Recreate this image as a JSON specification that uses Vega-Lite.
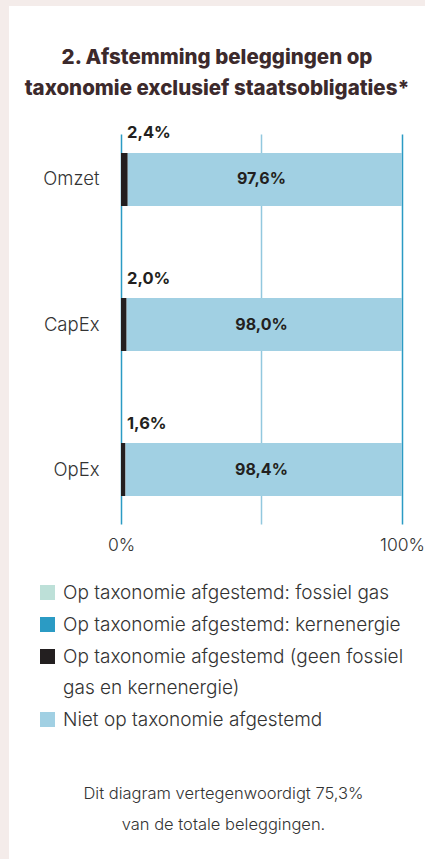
{
  "$schema": "https://vega.github.io/schema/vega-lite/v6.json",
  "width": 416,
  "height": 853,
  "autosize": {"type": "none"},
  "padding": {"left": 9, "top": 6, "right": 0, "bottom": 0},
  "background": "#f4ecea",
  "title": {
    "text": ["2. Afstemming beleggingen op", "taxonomie exclusief staatsobligaties*"],
    "anchor": "middle",
    "frame": "group",
    "baseline": "top",
    "offset": -93,
    "font": "Inter",
    "fontSize": 20.5,
    "fontWeight": 800,
    "color": "#3c2a2c",
    "lineHeight": 31
  },
  "data": {
    "values": [
      {"metric": "Omzet", "category": "Op taxonomie afgestemd: fossiel gas", "value": 0},
      {"metric": "Omzet", "category": "Op taxonomie afgestemd: kernenergie", "value": 0},
      {"metric": "Omzet", "category": "Op taxonomie afgestemd (geen fossiel gas en kernenergie)", "value": 2.4},
      {"metric": "Omzet", "category": "Niet op taxonomie afgestemd", "value": 97.6},
      {"metric": "CapEx", "category": "Op taxonomie afgestemd: fossiel gas", "value": 0},
      {"metric": "CapEx", "category": "Op taxonomie afgestemd: kernenergie", "value": 0},
      {"metric": "CapEx", "category": "Op taxonomie afgestemd (geen fossiel gas en kernenergie)", "value": 2.0},
      {"metric": "CapEx", "category": "Niet op taxonomie afgestemd", "value": 98.0},
      {"metric": "OpEx", "category": "Op taxonomie afgestemd: fossiel gas", "value": 0},
      {"metric": "OpEx", "category": "Op taxonomie afgestemd: kernenergie", "value": 0},
      {"metric": "OpEx", "category": "Op taxonomie afgestemd (geen fossiel gas en kernenergie)", "value": 1.6},
      {"metric": "OpEx", "category": "Niet op taxonomie afgestemd", "value": 98.4}
    ]
  },
  "layer": [
    {
      "mark": {"type": "bar"},
      "encoding": {
        "y": {
          "field": "metric",
          "type": "nominal",
          "sort": ["Omzet", "CapEx", "OpEx"],
          "scale": {"range": [147, 490], "paddingInner": 0.6345, "paddingOuter": 0},
          "axis": {
            "title": null,
            "orient": "left",
            "offset": -112,
            "domain": false,
            "ticks": false,
            "labelPadding": 22,
            "labelFont": "Inter",
            "labelFontSize": 18.5,
            "labelFontWeight": 300,
            "labelColor": "#333333"
          }
        },
        "x": {
          "field": "value",
          "type": "quantitative",
          "stack": "zero",
          "scale": {"domain": [-39.86, 108.19], "nice": false, "zero": false},
          "axis": {
            "orient": "bottom",
            "offset": -335,
            "zindex": 0,
            "values": [0, 50, 100],
            "domain": false,
            "grid": false,
            "ticks": true,
            "tickSize": -390,
            "tickWidth": 1.5,
            "tickColor": {"condition": {"test": "datum.value == 50", "value": "#92c8de"}, "value": "#2b9bc4"},
            "labelExpr": "datum.value == 50 ? '' : datum.value + '%'",
            "labelPadding": 402,
            "labelFont": "Inter",
            "labelFontSize": 17.5,
            "labelFontWeight": 300,
            "labelColor": "#333333",
            "labelFlush": false,
            "labelOverlap": false,
            "title": ["Dit diagram vertegenwoordigt 75,3%", "van de totale beleggingen."],
            "titleFont": "Inter",
            "titleFontSize": 16.5,
            "titleFontWeight": 300,
            "titleColor": "#333333",
            "titleLineHeight": 31,
            "titleX": 214,
            "titleY": 274,
            "titleBaseline": "alphabetic",
            "titleAlign": "center"
          }
        },
        "color": {
          "field": "category",
          "type": "nominal",
          "scale": {
            "domain": [
              "Op taxonomie afgestemd: fossiel gas",
              "Op taxonomie afgestemd: kernenergie",
              "Op taxonomie afgestemd (geen fossiel gas en kernenergie)",
              "Niet op taxonomie afgestemd"
            ],
            "range": ["#bde0d8", "#2b9bc4", "#231f20", "#a1d0e3"]
          },
          "legend": {
            "title": null,
            "orient": "none",
            "legendX": 29,
            "legendY": 577,
            "padding": 0,
            "symbolType": "square",
            "symbolSize": 225,
            "symbolStrokeWidth": 0,
            "symbolOpacity": 1,
            "labelFont": "Inter",
            "labelFontSize": 19,
            "labelFontWeight": 300,
            "labelColor": "#333333",
            "labelOffset": 6,
            "rowPadding": 12,
            "labelLimit": 400,
            "direction": "vertical",
            "labelExpr": "datum.label == 'Op taxonomie afgestemd (geen fossiel gas en kernenergie)' ? ['Op taxonomie afgestemd (geen fossiel', 'gas en kernenergie)'] : datum.label"
          }
        },
        "order": {"field": "category", "sort": "descending"}
      }
    },
    {
      "transform": [{"filter": "datum.category == 'Op taxonomie afgestemd (geen fossiel gas en kernenergie)'"}],
      "mark": {"type": "text", "align": "left", "baseline": "middle", "dx": 6, "dy": -46, "font": "Inter", "fontSize": 16.5, "fontWeight": 700, "color": "#231f20"},
      "encoding": {
        "y": {"field": "metric", "type": "nominal", "sort": ["Omzet", "CapEx", "OpEx"]},
        "x": {"datum": 0},
        "text": {"field": "value", "type": "quantitative", "format": "$.1f"}
      }
    },
    {
      "transform": [{"filter": "datum.category == 'Niet op taxonomie afgestemd'"}],
      "mark": {"type": "text", "align": "center", "baseline": "middle", "font": "Inter", "fontSize": 16, "fontWeight": 700, "color": "#231f20"},
      "encoding": {
        "y": {"field": "metric", "type": "nominal", "sort": ["Omzet", "CapEx", "OpEx"]},
        "x": {"datum": 50},
        "text": {"field": "value", "type": "quantitative", "format": "$.1f"}
      }
    }
  ],
  "config": {
    "locale": {"number": {"decimal": ",", "thousands": ".", "grouping": [3], "currency": ["", "%"]}},
    "view": {"fill": "white", "stroke": null},
    "font": "Inter",
    "style": {"guide-label": {"lineHeight": 31}}
  }
}
